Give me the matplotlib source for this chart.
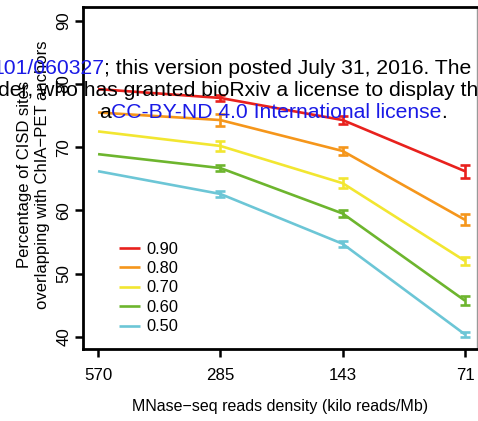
import numpy as np
import matplotlib
matplotlib.use("Agg")
import matplotlib.pyplot as plt

plt.rcParams["font.family"] = ["Liberation Sans", "DejaVu Sans"]

# read densities (kilo reads/Mb), plotted at evenly spaced positions
densities = ["570", "285", "143", "71"]
thresholds = ["0.90", "0.80", "0.70", "0.60", "0.50"]
colors = ["#E8211D", "#F5961B", "#F2E631", "#6DB52E", "#6CC6D6"]

pct = {
    "0.90": [79.2, 77.8, 74.3, 66.2],
    "0.80": [75.5, 74.3, 69.4, 58.5],
    "0.70": [72.5, 70.2, 64.3, 52.0],
    "0.60": [68.9, 66.7, 59.5, 45.7],
    "0.50": [66.2, 62.6, 54.7, 40.35],
}
err = {
    "0.90": [0.0, 0.5, 0.7, 1.0],
    "0.80": [0.0, 0.9, 0.7, 0.85],
    "0.70": [0.0, 0.8, 0.8, 0.6],
    "0.60": [0.0, 0.5, 0.5, 0.75],
    "0.50": [0.0, 0.5, 0.5, 0.4],
}

fig = plt.figure(figsize=(4.78, 4.21), dpi=100)
ax = fig.add_axes([83 / 478, 72 / 421, 394 / 478, 342 / 421])

x = np.arange(1, len(densities) + 1)
for t, c in zip(thresholds, colors):
    ax.plot(x, pct[t], color=c, lw=1.9, label=t, solid_capstyle="butt")
    # no error bar for the full data set
    ax.errorbar(x[1:], pct[t][1:], yerr=err[t][1:], fmt="none", ecolor=c,
                elinewidth=1.9, capsize=3.5, capthick=1.9)

ax.set_xlim(0.877, 4.098)
ax.set_ylim(38.05, 92.2)
ax.set_xticks(x)
ax.set_xticklabels(densities, fontsize=12.2)
ax.set_yticks([40, 50, 60, 70, 80, 90])
ax.set_yticklabels(["40", "50", "60", "70", "80", "90"], fontsize=12.2,
                   rotation=90, va="center")
ax.tick_params(axis="both", direction="out", length=5.5, width=1.8)
ax.tick_params(axis="x", pad=8)
ax.tick_params(axis="y", pad=3)

for side in ["left", "top", "bottom"]:
    ax.spines[side].set_linewidth(2)
ax.spines["right"].set_linewidth(1)
ax.spines["right"].set_color("#999999")

ax.set_xlabel("MNase\u2212seq reads density (kilo reads/Mb)", fontsize=11.5, labelpad=12)
ax.set_ylabel("Percentage of CISD sites\noverlapping with ChIA\u2212PET anchors",
              fontsize=12, linespacing=1.25)
ax.yaxis.set_label_coords(-33 / 394, 0.51)

ax.legend(loc="lower left", bbox_to_anchor=(0.055, 0.0), frameon=False,
          fontsize=11.8, handlelength=1.25, handletextpad=0.4, labelspacing=0.27)

# bioRxiv watermark overlay
wm = dict(fontsize=15.2, zorder=10)
t1 = fig.text(-8 / 478, 1 - 69 / 421, "101/060327", color="#1A1AE6", va="center", **wm)
ax.annotate("; this version posted July 31, 2016. The", xy=(1, 0), xycoords=t1,
            va="bottom", color="black", annotation_clip=False, **wm)
fig.text(-2 / 478, 1 - 90 / 421, "der, who has granted bioRxiv a license to display th",
         color="black", va="center", **wm)
t3 = fig.text(99 / 478, 1 - 113 / 421, "a", color="black", va="center", **wm)
t4 = ax.annotate("CC-BY-ND 4.0 International license", xy=(1, 0), xycoords=t3,
                 va="bottom", color="#1A1AE6", annotation_clip=False, **wm)
ax.annotate(".", xy=(1, 0), xycoords=t4, va="bottom", color="black",
            annotation_clip=False, **wm)

fig.savefig("out.png", dpi=100)
